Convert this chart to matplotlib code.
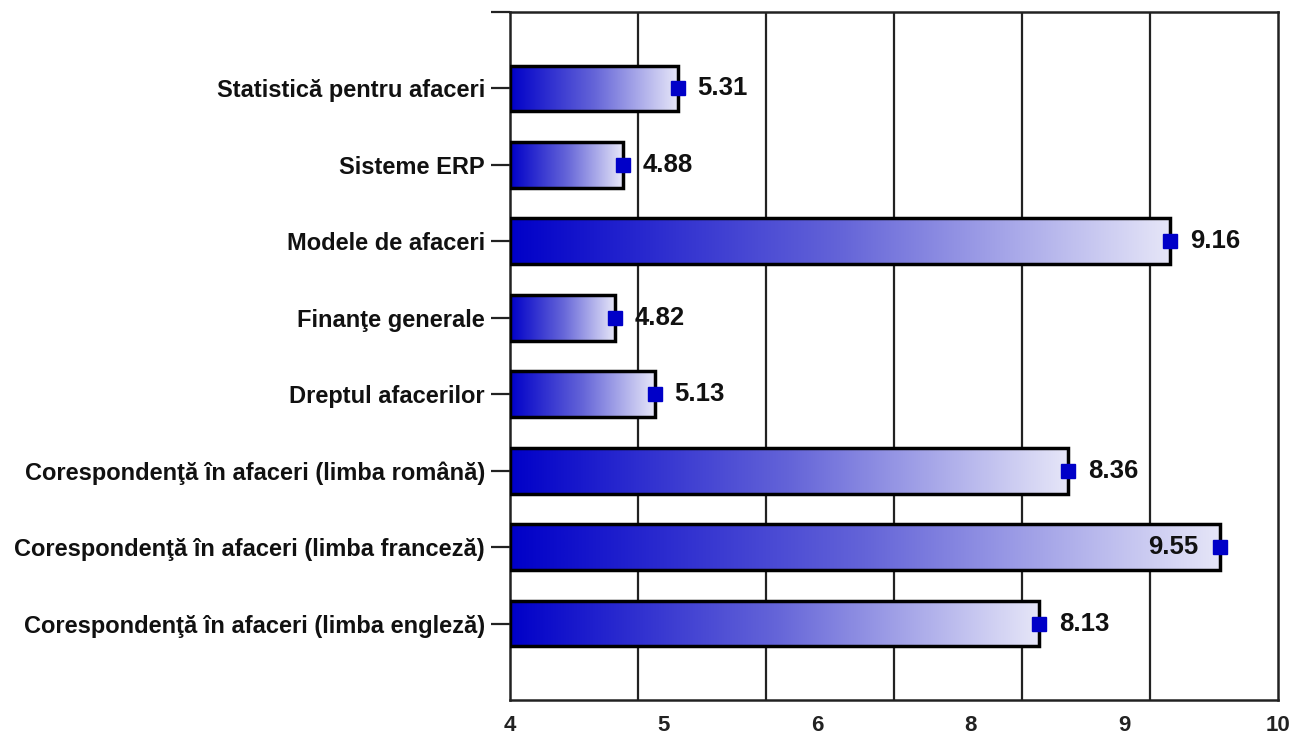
import numpy as np
import matplotlib
matplotlib.use('Agg')
import matplotlib.pyplot as plt
from matplotlib.colors import LinearSegmentedColormap

plt.rcParams['font.family'] = ['Liberation Sans', 'DejaVu Sans']

# data, top to bottom
categories = ['Statistică pentru afaceri',
              'Sisteme ERP',
              'Modele de afaceri',
              'Finanţe generale',
              'Dreptul afacerilor',
              'Corespondenţă în afaceri (limba română)',
              'Corespondenţă în afaceri (limba franceză)',
              'Corespondenţă în afaceri (limba engleză)']
values = [5.31, 4.88, 9.16, 4.82, 5.13, 8.36, 9.55, 8.13]

# axis: odd labelling from the original chart (7 is missing)
x_min, x_max = 4, 10
tick_labels = ['4', '5', '6', '8', '9', '10']
grid_vals = list(range(4, 11))

fig = plt.figure(figsize=(12.95, 7.4), dpi=100)
ax = fig.add_axes([510/1295, 1-700/740, (1278-510)/1295, (700-12)/740])

cmap = LinearSegmentedColormap.from_list('blu', ['#0000c8', '#6464d8', '#e6e6f8'])
grad = np.linspace(0, 1, 256).reshape(1, -1)

ypos = np.arange(len(categories))
h = 0.6

for y, v in zip(ypos, values):
    ax.imshow(grad, cmap=cmap, aspect='auto', interpolation='bicubic',
              extent=(x_min, v, y + h/2, y - h/2), zorder=2)

ax.barh(ypos, np.array(values) - x_min, left=x_min, height=h, fill=False,
        edgecolor='black', linewidth=2.5, zorder=3)
ax.plot(values, ypos, 's', color='#0000c8', markersize=10, zorder=4)

for y, v in zip(ypos, values):
    if v > 9.4:
        # no room on the right, label goes inside the bar
        ax.annotate('%.2f' % v, (v, y), xytext=(-22, 0), textcoords='offset pixels',
                    ha='right', va='center', fontsize=18.5, fontweight='bold',
                    color='#111111', zorder=5)
    else:
        ax.annotate('%.2f' % v, (v, y), xytext=(20, 0), textcoords='offset pixels',
                    ha='left', va='center', fontsize=18.5, fontweight='bold',
                    color='#111111', zorder=5)

ax.set_xlim(x_min, x_max)
ax.set_ylim(len(categories), -1)

ax.set_xticks(np.linspace(x_min, x_max, len(tick_labels)))
ax.set_xticklabels(tick_labels, fontsize=16, fontweight='bold', color='#222222')
ax.set_xticks(grid_vals, minor=True)
ax.tick_params(axis='x', which='both', length=0, pad=11)
ax.grid(True, axis='x', which='minor', color='#222222', linewidth=1.6, zorder=1)
ax.set_axisbelow(True)

ax.set_yticks(ypos)
ax.set_yticklabels(categories, fontsize=17, fontweight='bold', color='#111111')
ax.set_yticks([-1], minor=True)
ax.tick_params(axis='y', which='both', length=14, width=1.6, color='#222222', pad=4)

for s in ax.spines.values():
    s.set_linewidth(1.8)
    s.set_color('#222222')

fig.savefig('out.png', dpi=100)
